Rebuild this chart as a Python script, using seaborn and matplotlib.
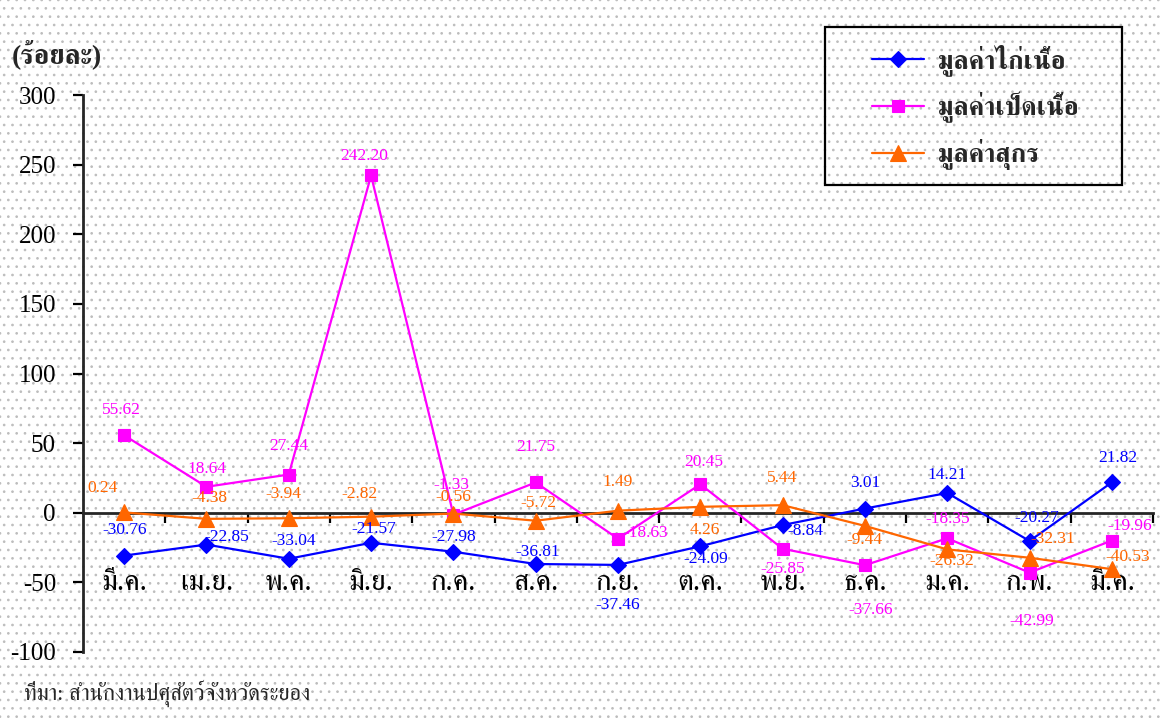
import matplotlib
matplotlib.use("Agg")
import matplotlib.pyplot as plt
from matplotlib import font_manager, ft2font
from matplotlib.patches import Rectangle
from matplotlib.ticker import FixedFormatter, FixedLocator, NullFormatter
import numpy as np
import pandas as pd
import seaborn as sns


MONTHS = ["มี.ค.", "เม.ย.", "พ.ค.", "มิ.ย.", "ก.ค.", "ส.ค.", "ก.ย.",
          "ต.ค.", "พ.ย.", "ธ.ค.", "ม.ค.", "ก.พ.", "มี.ค."]
CHICKEN = [-30.76, -22.85, -33.04, -21.57, -27.98, -36.81, -37.46,
           -24.09, -8.84, 3.01, 14.21, -20.27, 21.82]
DUCK = [55.62, 18.64, 27.44, 242.20, -1.33, 21.75, -18.63,
        20.45, -25.85, -37.66, -18.35, -42.99, -19.96]
PIG = [0.24, -4.38, -3.94, -2.82, -0.56, -5.72, 1.49,
       4.26, 5.44, -9.44, -26.32, -32.31, -40.53]
SERIES_NAMES = ["มูลค่าไก่เนื้อ", "มูลค่าเป็ดเนื้อ", "มูลค่าสุกร"]
Y_TICKS = [-100, -50, 0, 50, 100, 150, 200, 250, 300]
UNIT_LABEL = "(ร้อยละ)"
SOURCE = "ที่มา: สำนักงานปศุสัตว์จังหวัดระยอง"

# label offsets in pixels (dx right, dy down) from each point
CHICKEN_OFFSETS = [(0, -26), (20, -8), (5, -18), (3, -14), (0, -15), (2, -12), (0, 40),
                   (5, 13), (23, 6), (0, -26), (0, -18), (7, -23), (6, -24)]
DUCK_OFFSETS = [(-3, -25), (0, -18), (0, -29), (-7, -19), (-2, -30), (0, -35), (28, -6),
                (3, -22), (0, 20), (6, 45), (0, -19), (2, 48), (18, -15)]
PIG_OFFSETS = [(-22, -24), (3, -21), (-5, -24), (-12, -23), (0, -17), (3, -18), (0, -29),
               (5, 23), (0, -27), (0, 14), (5, 12), (23, -19), (16, -12)]

STYLES = [
    dict(color="#0000FF", marker="D", markersize=8.5),
    dict(color="#FF00FF", marker="s", markersize=8.5),
    dict(color="#FF6600", marker="^", markersize=11),
]


def find_thai_font() -> str:
    names = []
    for entry in font_manager.fontManager.ttflist:
        try:
            font = ft2font.FT2Font(entry.fname)
        except Exception:
            continue
        if font.get_char_index(ord("ก")):
            names.append(entry.name)
    names.sort(key=lambda n: ("Serif" not in n, n))
    return names[0] if names else "DejaVu Sans"


def main() -> None:
    sns.set_style("ticks")
    thai = find_thai_font()
    plt.rcParams["font.family"] = ["Liberation Serif", thai]
    plt.rcParams["axes.unicode_minus"] = False
    plt.rcParams["hatch.linewidth"] = 0.7

    W, H = 1161, 722
    fig = plt.figure(figsize=(W / 100, H / 100), dpi=100)
    fig.patch.set_facecolor("white")
    fig.add_artist(Rectangle((0, 0), 1, 1, transform=fig.transFigure, facecolor="white",
                             edgecolor="#bdbdbd", hatch="..", linewidth=0, zorder=-5))

    ax = fig.add_axes([83 / W, 1 - 652 / H, (1153 - 83) / W, (652 - 95) / H])
    ax.set_facecolor("none")

    x = np.arange(len(MONTHS))
    series = [CHICKEN, DUCK, PIG]
    offsets = [CHICKEN_OFFSETS, DUCK_OFFSETS, PIG_OFFSETS]
    for name, values, style, offs in zip(SERIES_NAMES, series, STYLES, offsets):
        df = pd.DataFrame({"x": x, "value": values})
        sns.lineplot(data=df, x="x", y="value", ax=ax, label=name, linewidth=1.6,
                     markeredgewidth=0.8, markeredgecolor=style["color"], clip_on=False,
                     zorder=3, **style)
        for xi, v, (dx, dy) in zip(x, values, offs):
            ax.annotate(f"{v:.2f}", (xi, v), xytext=(dx, -dy), textcoords="offset pixels",
                        ha="center", va="center", fontsize=12.5, color=style["color"],
                        zorder=4)

    ax.set_xlim(-0.5, len(MONTHS) - 0.5)
    ax.set_ylim(Y_TICKS[0], Y_TICKS[-1])
    ax.set_xlabel("")
    ax.set_ylabel("")

    for side in ("top", "right"):
        ax.spines[side].set_visible(False)
    ax.spines["left"].set_linewidth(2)
    ax.spines["left"].set_bounds(Y_TICKS[0], Y_TICKS[-1])
    ax.spines["bottom"].set_position(("data", 0))
    ax.spines["bottom"].set_linewidth(2)
    ax.spines["bottom"].set_zorder(2)

    ax.xaxis.set_major_locator(FixedLocator(x + 0.5))
    ax.xaxis.set_major_formatter(NullFormatter())
    ax.xaxis.set_minor_locator(FixedLocator(x))
    ax.xaxis.set_minor_formatter(FixedFormatter(MONTHS))
    ax.tick_params(axis="x", which="major", direction="out", length=7, width=1.6,
                   color="black")
    ax.tick_params(axis="x", which="minor", length=0, pad=41, labelsize=21,
                   labelcolor="black")

    ax.set_yticks(Y_TICKS)
    ax.tick_params(axis="y", direction="out", length=7.5, width=1.6, pad=12,
                   labelsize=18, color="black", labelcolor="black")

    handles, labels = ax.get_legend_handles_labels()
    ax.legend(handles, labels, loc="center", bbox_to_anchor=(975 / W, 1 - 107 / H),
              bbox_transform=fig.transFigure, frameon=False,
              prop=dict(size=19, weight="bold"), handlelength=2.0,
              labelspacing=0.6, handletextpad=0.5)
    fig.add_artist(Rectangle((825 / W, 1 - 185 / H), 297 / W, 158 / H,
                             transform=fig.transFigure, fill=False, edgecolor="black",
                             linewidth=1.6))

    fig.text(12 / W, 1 - 54 / H, UNIT_LABEL, ha="left", va="center", fontsize=20,
             fontweight="bold")
    fig.text(24 / W, 1 - 693 / H, SOURCE, ha="left", va="center", fontsize=16)

    fig.savefig("out.png", dpi=100, facecolor=fig.get_facecolor())
    plt.close(fig)


if __name__ == "__main__":
    main()
